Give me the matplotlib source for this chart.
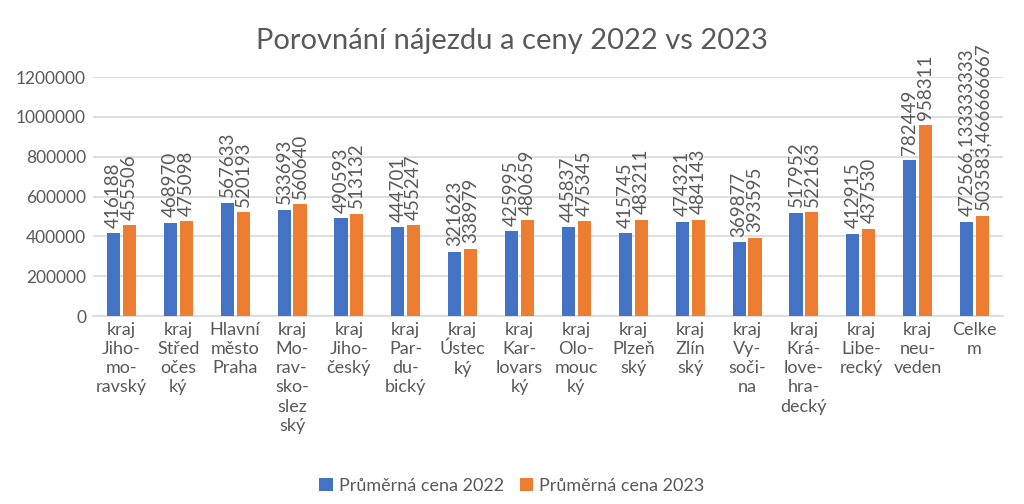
import matplotlib
matplotlib.use("Agg")
import matplotlib.pyplot as plt
import numpy as np

BLUE = "#4472C4"
ORANGE = "#ED7D31"
TEXT = "#595959"
GRID = "#D9D9D9"

plt.rcParams["font.family"] = ["Lato", "DejaVu Sans"]

categories = [
    "kraj\nJiho-\nmo-\nravský",
    "kraj\nStřed\nočes\nký",
    "Hlavní\nměsto\nPraha",
    "kraj\nMo-\nrav-\nsko-\nslez\nský",
    "kraj\nJiho-\nčeský",
    "kraj\nPar-\ndu-\nbický",
    "kraj\nÚstec\nký",
    "kraj\nKar-\nlovars\nký",
    "kraj\nOlo-\nmouc\nký",
    "kraj\nPlzeň\nský",
    "kraj\nZlín\nský",
    "kraj\nVy-\nsoči-\nna",
    "kraj\nKrá-\nlove-\nhra-\ndecký",
    "kraj\nLibe-\nrecký",
    "kraj\nneu-\nveden",
    "Celke\nm",
]
cena_2022 = [416188, 468970, 567633, 533693, 490593, 444701, 321623, 425995,
             445837, 415745, 474321, 369877, 517952, 412915, 782449, 472566.133333333]
cena_2023 = [455506, 475098, 520193, 560640, 513132, 455247, 338979, 480659,
             475345, 483211, 484143, 393595, 522163, 437530, 958311, 503583.466666667]
series_names = ["Průměrná cena 2022", "Průměrná cena 2023"]
yticks = [0, 200000, 400000, 600000, 800000, 1000000, 1200000]


def fmt(v):
    if float(v).is_integer():
        return str(int(v))
    return repr(float(v)).replace(".", ",")


fig = plt.figure(figsize=(10.24, 5.04), dpi=100, facecolor="white")
ax = fig.add_axes([0.0908, 0.373, 0.8887, 0.474])

x = np.arange(len(categories))
w = 0.23
off = 0.14
b1 = ax.bar(x - off, cena_2022, w, color=BLUE, label=series_names[0], zorder=3)
b2 = ax.bar(x + off, cena_2023, w, color=ORANGE, label=series_names[1], zorder=3)

for bars, vals in ((b1, cena_2022), (b2, cena_2023)):
    for rect, v in zip(bars, vals):
        ax.annotate(fmt(v), (rect.get_x() + rect.get_width() / 2, rect.get_height()),
                    xytext=(0, 4), textcoords="offset points", rotation=90,
                    ha="center", va="bottom", fontsize=13.5, color=TEXT,
                    annotation_clip=False, zorder=4)

ax.set_xlim(-0.5, len(categories) - 0.5)
ax.set_ylim(0, 1200000)
ax.set_yticks(yticks)
ax.set_yticklabels([str(t) for t in yticks])
ax.set_xticks(x)
ax.set_xticklabels(categories, linespacing=1.25, fontsize=13)
ax.tick_params(axis="both", length=0, colors=TEXT)
ax.tick_params(axis="y", labelsize=12.5, pad=5)
ax.tick_params(axis="x", pad=4)
ax.grid(axis="y", color=GRID, linewidth=1.2, zorder=0)
for s in ("top", "right", "left"):
    ax.spines[s].set_visible(False)
ax.spines["bottom"].set_color(GRID)
ax.spines["bottom"].set_linewidth(1.2)

fig.suptitle("Porovnání nájezdu a ceny 2022 vs 2023", x=0.5, y=0.945,
             fontsize=21, color=TEXT)

fig.legend(handles=[b1, b2], loc="lower center", bbox_to_anchor=(0.5, -0.012),
           ncol=2, frameon=False, fontsize=13, labelcolor=TEXT,
           handlelength=0.75, handleheight=0.75, handletextpad=0.35, columnspacing=0.85)

fig.savefig("out.png", dpi=100, facecolor="white")
